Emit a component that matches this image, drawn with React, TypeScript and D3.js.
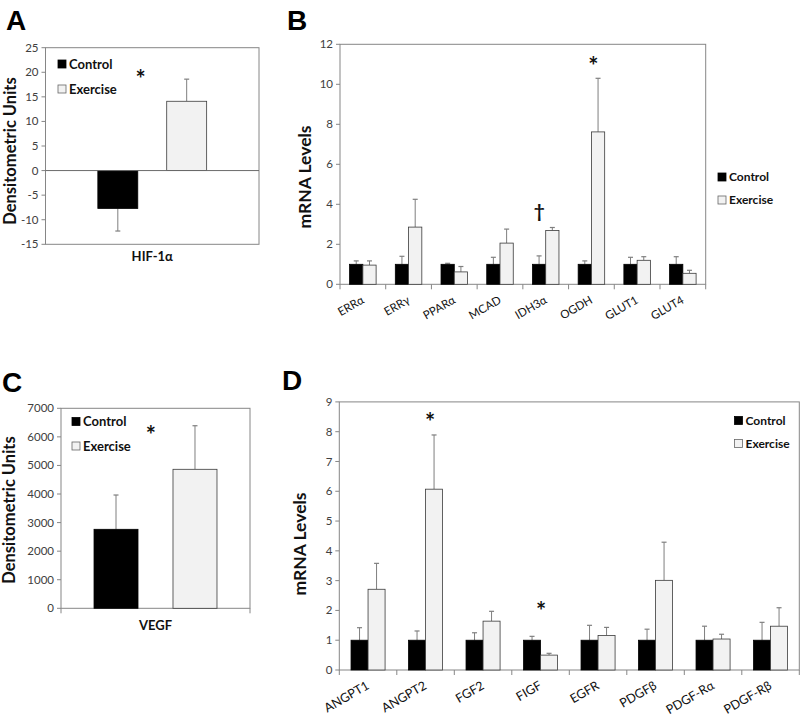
import React from 'react';
import * as d3 from 'd3';

// ---------- DATA ----------
const seriesNames = ['Control', 'Exercise'];

// Panel A: HIF-1α protein
const hifCategories = ['HIF-1α'];
const hifControl = [-7.7];
const hifControlErr = [4.6];
const hifExercise = [14.1];
const hifExerciseErr = [4.5];
const hifTicks = [-15, -10, -5, 0, 5, 10, 15, 20, 25];
const hifMarks = [{ cat: 'HIF-1α', value: 20.3, symbol: '*', shift: -0.055 }];

// Panel B: metabolic gene mRNA
const metCategories = ['ERRα', 'ERRγ', 'PPARα', 'MCAD', 'IDH3α', 'OGDH', 'GLUT1', 'GLUT4'];
const metControl = [1, 1, 1, 1, 1, 1, 1, 1];
const metControlErr = [0.17, 0.4, 0.05, 0.35, 0.42, 0.17, 0.35, 0.38];
const metExercise = [0.96, 2.86, 0.62, 2.06, 2.69, 7.62, 1.2, 0.55];
const metExerciseErr = [0.21, 1.39, 0.27, 0.7, 0.15, 2.68, 0.18, 0.15];
const metTicks = [0, 2, 4, 6, 8, 10, 12];
const metMarks = [
  { cat: 'IDH3α', value: 3.7, symbol: '†', shift: -0.14 },
  { cat: 'OGDH', value: 11.3, symbol: '*', shift: 0.04 },
];

// Panel C: VEGF protein
const vegfCategories = ['VEGF'];
const vegfControl = [2765];
const vegfControlErr = [1200];
const vegfExercise = [4865];
const vegfExerciseErr = [1525];
const vegfTicks = [0, 1000, 2000, 3000, 4000, 5000, 6000, 7000];
const vegfMarks = [{ cat: 'VEGF', value: 6330, symbol: '*', shift: -0.025 }];

// Panel D: angiogenic gene mRNA
const angCategories = ['ANGPT1', 'ANGPT2', 'FGF2', 'FIGF', 'EGFR', 'PDGFβ', 'PDGF-Rα', 'PDGF-Rβ'];
const angControl = [1, 1, 1, 1, 1, 1, 1, 1];
const angControlErr = [0.42, 0.31, 0.25, 0.13, 0.5, 0.37, 0.47, 0.6];
const angExercise = [2.71, 6.07, 1.64, 0.5, 1.16, 3.01, 1.04, 1.47];
const angExerciseErr = [0.87, 1.82, 0.33, 0.06, 0.27, 1.28, 0.16, 0.62];
const angTicks = [0, 1, 2, 3, 4, 5, 6, 7, 8, 9];
const angMarks = [
  { cat: 'ANGPT2', value: 8.6, symbol: '*', shift: 0.08 },
  { cat: 'FIGF', value: 2.25, symbol: '*', shift: 0.01 },
];

// ---------- STYLE ----------
const FONT = 'Lato, "Open Sans", sans-serif';
const AXIS = '#868686';
const TICKTXT = '#404040';
const ERR = '#7f7f7f';
const EX_FILL = '#f2f2f2';
const EX_STROKE = '#3a3a3a';

type Mark = { cat: string; value: number; symbol: string; shift: number };
type PanelProps = {
  letter: string;
  letterX: number;
  letterY: number;
  left: number;
  right: number;
  top: number;
  bottom: number;
  domain: [number, number];
  ticks: number[];
  categories: string[];
  control: number[];
  controlErr: number[];
  exercise: number[];
  exerciseErr: number[];
  padInner: number;
  padOuter: number;
  yLabel: string;
  yLabelX: number;
  yLabelY: number;
  yLabelSize: number;
  rotated: boolean;
  xLabelSize: number;
  xLabelDy: number;
  legendX: number;
  legendY: number;
  legendGap: number;
  legendSize: number;
  marks: Mark[];
  zeroLine?: boolean;
  boundaryTicks: boolean;
};

function Panel(p: PanelProps) {
  const y = d3.scaleLinear().domain(p.domain).range([p.bottom, p.top]);
  const x0 = d3.scaleBand<string>().domain(p.categories).range([p.left, p.right]).paddingInner(0).paddingOuter(0);
  const x1 = d3
    .scaleBand<string>()
    .domain(seriesNames)
    .range([0, x0.bandwidth()])
    .paddingInner(p.padInner)
    .paddingOuter(p.padOuter);
  const bw = x1.bandwidth();
  const y0 = y(0);
  const vals = [p.control, p.exercise];
  const errs = [p.controlErr, p.exerciseErr];
  const bounds = p.boundaryTicks
    ? d3.range(p.categories.length + 1).map((i) => p.left + i * x0.step())
    : [];

  return (
    <g>
      <text x={p.letterX} y={p.letterY} fontFamily="'Liberation Sans', Arial, sans-serif" fontWeight="bold" fontSize={28}>
        {p.letter}
      </text>
      <rect x={p.left} y={p.top} width={p.right - p.left} height={p.bottom - p.top} fill="#fff" stroke={AXIS} strokeWidth={1} />
      {p.ticks.map((t) => (
        <g key={'t' + t}>
          <line x1={p.left - 4} x2={p.left} y1={y(t)} y2={y(t)} stroke={AXIS} />
          <text x={p.left - 7} y={y(t)} dy="0.35em" textAnchor="end" fontFamily={FONT} fontSize={11.5} fill={TICKTXT}>
            {t}
          </text>
        </g>
      ))}
      {bounds.map((b, i) => (
        <line key={'b' + i} x1={b} x2={b} y1={p.bottom} y2={p.bottom + 5} stroke={AXIS} />
      ))}
      {p.categories.map((c, i) =>
        seriesNames.map((s, si) => {
          const v = vals[si][i];
          const e = errs[si][i];
          const bx = (x0(c) as number) + (x1(s) as number);
          const yv = y(v);
          const ye = y(v + Math.sign(v) * e);
          const cx = bx + bw / 2;
          return (
            <g key={c + s}>
              <line x1={cx} x2={cx} y1={yv} y2={ye} stroke={ERR} strokeWidth={1} />
              <line x1={cx - 2.5} x2={cx + 2.5} y1={ye} y2={ye} stroke={ERR} strokeWidth={1.2} />
              <rect
                x={bx}
                y={Math.min(yv, y0)}
                width={bw}
                height={Math.abs(yv - y0)}
                fill={si === 0 ? '#000' : EX_FILL}
                stroke={si === 0 ? '#000' : EX_STROKE}
                strokeWidth={0.8}
              />
            </g>
          );
        })
      )}
      {p.zeroLine && <line x1={p.left} x2={p.right} y1={y0} y2={y0} stroke="#6a6a6a" strokeWidth={1} />}
      {p.categories.map((c) => {
        const cx = (x0(c) as number) + x0.bandwidth() / 2;
        if (p.rotated) {
          const ax = cx + 2;
          const ay = p.bottom + p.xLabelDy;
          return (
            <text
              key={'xl' + c}
              x={ax}
              y={ay}
              transform={`rotate(-30 ${ax} ${ay})`}
              textAnchor="end"
              fontFamily={FONT}
              fontSize={p.xLabelSize}
              fill="#111"
            >
              {c}
            </text>
          );
        }
        return (
          <text key={'xl' + c} x={cx} y={p.bottom + p.xLabelDy} textAnchor="middle" fontFamily={FONT} fontWeight="bold" fontSize={p.xLabelSize} fill="#111">
            {c}
          </text>
        );
      })}
      {p.marks.map((m, i) => {
        const cx = (x0(m.cat) as number) + x0.bandwidth() * (0.5 + m.shift);
        return (
          <text key={'m' + i} x={cx} y={y(m.value)} dy={m.symbol === '*' ? '0.7em' : '0.4em'} textAnchor="middle" fontFamily={FONT} fontWeight="bold" fontSize={m.symbol === '*' ? 24 : 19} fill="#111">
            {m.symbol}
          </text>
        );
      })}
      {seriesNames.map((s, si) => (
        <g key={'lg' + s}>
          <rect
            x={p.legendX}
            y={p.legendY + si * p.legendGap - 4}
            width={8}
            height={8}
            fill={si === 0 ? '#000' : EX_FILL}
            stroke={si === 0 ? '#000' : '#666'}
            strokeWidth={0.8}
          />
          <text x={p.legendX + 11} y={p.legendY + si * p.legendGap} dy="0.36em" fontFamily={FONT} fontWeight="bold" fontSize={p.legendSize} fill="#111">
            {s}
          </text>
        </g>
      ))}
      <text
        x={p.yLabelX}
        y={p.yLabelY}
        transform={`rotate(-90 ${p.yLabelX} ${p.yLabelY})`}
        textAnchor="middle"
        dy="0.35em"
        fontFamily={FONT}
        fontWeight="bold"
        fontSize={p.yLabelSize}
        fill="#111"
      >
        {p.yLabel}
      </text>
    </g>
  );
}

export default function App() {
  return (
    <svg width={801} height={722} style={{ position: 'absolute', left: 0, top: 0, background: '#fff' }}>
      <rect x={0} y={0} width={801} height={722} fill="#fff" />
      <Panel
        letter="A" letterX={6} letterY={30}
        left={45.5} right={259} top={47.7} bottom={244.3}
        domain={[-15, 25]} ticks={hifTicks}
        categories={hifCategories} control={hifControl} controlErr={hifControlErr}
        exercise={hifExercise} exerciseErr={hifExerciseErr}
        padInner={0.42} padOuter={0.76}
        yLabel="Densitometric Units" yLabelX={10} yLabelY={151} yLabelSize={16.5}
        rotated={false} xLabelSize={13} xLabelDy={17}
        legendX={58} legendY={64} legendGap={25} legendSize={13}
        marks={hifMarks} zeroLine boundaryTicks={false}
      />
      <Panel
        letter="B" letterX={287} letterY={30}
        left={340} right={705.7} top={44.3} bottom={284.3}
        domain={[0, 12]} ticks={metTicks}
        categories={metCategories} control={metControl} controlErr={metControlErr}
        exercise={metExercise} exerciseErr={metExerciseErr}
        padInner={0} padOuter={0.724}
        yLabel="mRNA Levels" yLabelX={305} yLabelY={177} yLabelSize={17.5}
        rotated xLabelSize={11.5} xLabelDy={18}
        legendX={718} legendY={177} legendGap={23} legendSize={12}
        marks={metMarks} boundaryTicks
      />
      <Panel
        letter="C" letterX={2} letterY={392}
        left={61} right={250} top={408.3} bottom={608.3}
        domain={[0, 7000]} ticks={vegfTicks}
        categories={vegfCategories} control={vegfControl} controlErr={vegfControlErr}
        exercise={vegfExercise} exerciseErr={vegfExerciseErr}
        padInner={0.443} padOuter={0.418}
        yLabel="Densitometric Units" yLabelX={9.5} yLabelY={510} yLabelSize={16.5}
        rotated={false} xLabelSize={13} xLabelDy={22}
        legendX={72} legendY={421.5} legendGap={24.5} legendSize={13}
        marks={vegfMarks} boundaryTicks
      />
      <Panel
        letter="D" letterX={282} letterY={390}
        left={339.3} right={799.3} top={401.9} bottom={670}
        domain={[0, 9]} ticks={angTicks}
        categories={angCategories} control={angControl} controlErr={angControlErr}
        exercise={angExercise} exerciseErr={angExerciseErr}
        padInner={0} padOuter={0.689}
        yLabel="mRNA Levels" yLabelX={300} yLabelY={544} yLabelSize={17.5}
        rotated xLabelSize={12.5} xLabelDy={18}
        legendX={734.5} legendY={420.5} legendGap={23} legendSize={12}
        marks={angMarks} boundaryTicks
      />
    </svg>
  );
}
